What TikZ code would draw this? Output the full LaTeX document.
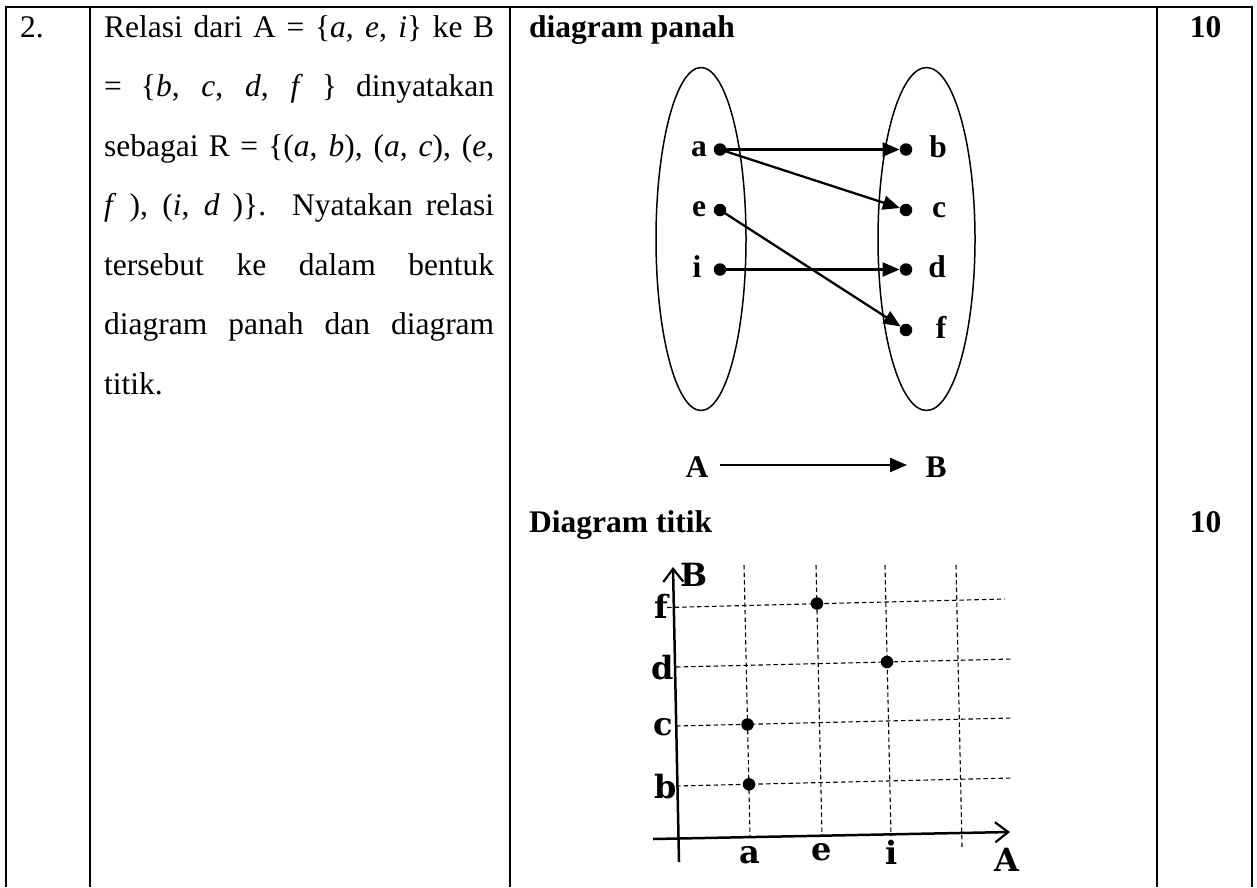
\documentclass[tikz,border=0pt]{standalone}
\usepackage{fontspec}
\setmainfont{Liberation Serif}
\newfontfamily\gridfont{DejaVu Serif}
\usetikzlibrary{arrows.meta,shapes.geometric}
\begin{document}
\begin{tikzpicture}[x=1pt,y=-1pt,
  rule/.style={line width=2.2pt},
  body/.style={font=\fontsize{31.5}{37}\selectfont, inner sep=0pt, anchor=base west},
  bold/.style={font=\fontsize{31.5}{37}\selectfont\bfseries, inner sep=0pt},
  dot/.style={circle, fill=black, inner sep=0pt, minimum size=12.5pt},
  setell/.style={draw, ellipse, line width=1.5pt, inner sep=0pt},
  arr/.style={line width=2.3pt, -{Triangle[length=17pt,width=14pt]}},
  gline/.style={dash pattern=on 4.5pt off 3pt, line width=1.1pt},
  glab/.style={font=\gridfont\bfseries\fontsize{32}{36}\selectfont, inner sep=0pt},
  axisline/.style={line width=2.5pt, -{Straight Barb[length=13pt,width=20pt,line width=2.2pt]}}
]
\useasboundingbox (0,0) rectangle (1257,887);
% table
\draw[rule] (4.9,7) -- (1253.1,7);
\foreach \x in {6,90,510,1157,1252} \draw[rule] (\x,7) -- (\x,887);
% column 1 and 2
\node[body] (num) at (20,37) {2.};
\node[body] (l1) at (104,37) {\makebox[390pt][s]{Relasi dari A = \{\textit{a}, \textit{e}, \textit{i}\} ke B}};
\node[body] (l2) at (104,96.5) {\makebox[390pt][s]{= \{\textit{b}, \textit{c}, \textit{d}, \textit{f} \} dinyatakan}};
\node[body] (l3) at (104,156) {\makebox[390pt][s]{sebagai R = \{(\textit{a}, \textit{b}), (\textit{a}, \textit{c}), (\textit{e},}};
\node[body] (l4) at (104,215.5) {\makebox[390pt][s]{\textit{f} ), (\textit{i}, \textit{d} )\}. Nyatakan relasi}};
\node[body] (l5) at (104,275) {\makebox[390pt][s]{tersebut ke dalam bentuk}};
\node[body] (l6) at (104,334.5) {\makebox[390pt][s]{diagram panah dan diagram}};
\node[body] (l7) at (104,394) {titik.};
% column 3 headers and scores
\node[bold, anchor=base west] (h1) at (529,37) {diagram panah};
\node[bold, anchor=base] (s1) at (1205.5,37) {10};
\node[bold, anchor=base west] (h2) at (529,532) {Diagram titik};
\node[bold, anchor=base] (s2) at (1205.5,532) {10};
% arrow diagram
\node[setell, minimum width=90pt, minimum height=343pt] (setA) at (701,239) {};
\node[setell, minimum width=97pt, minimum height=343pt] (setB) at (926.5,239) {};
\node[dot] (a) at (720,149.5) {};
\node[dot] (e) at (720,210) {};
\node[dot] (i) at (720,269.5) {};
\node[dot] (b) at (906,149.5) {};
\node[dot] (c) at (906,210) {};
\node[dot] (d) at (906,269.5) {};
\node[dot] (f) at (906,330) {};
\node[bold, anchor=base] (la) at (699,156) {a};
\node[bold, anchor=base] (le) at (699,216) {e};
\node[bold, anchor=base] (li) at (697,277) {i};
\node[bold, anchor=base] (lb) at (938,157) {b};
\node[bold, anchor=base] (lc) at (939,217) {c};
\node[bold, anchor=base] (ld) at (937,277) {d};
\node[bold, anchor=base] (lf) at (941,338) {f};
\draw[arr] (a.center) -- (b);
\draw[arr] (a.center) -- (c);
\draw[arr] (e.center) -- (f);
\draw[arr] (i.center) -- (d);
\node[bold, anchor=base] (bigA) at (697,477) {A};
\node[bold, anchor=base] (bigB) at (936,477) {B};
\coordinate (arrS) at (720,465);
\coordinate (arrE) at (907,465);
\draw[arr] (arrS) -- (arrE);
% dot diagram
\coordinate (yb) at (679,862);
\coordinate (yt) at (673,567);
\coordinate (xl) at (653,839);
\coordinate (xr) at (1010,832);
\draw[gline] (744,565) -- (750,836);
\draw[gline] (816,565) -- (822,836);
\draw[gline] (885,565) -- (891,836);
\draw[gline] (956,565) -- (962,847);
\draw[gline] (667,607.5) -- (1005,599);
\draw[gline] (676,667) -- (1012,659);
\draw[gline] (676,726) -- (1012,718);
\draw[gline] (676,786) -- (1012,778);
\draw[axisline] (yb) -- (yt);
\draw[axisline] (xl) -- (xr);
\node[dot] (pf) at (817,603.5) {};
\node[dot] (pd) at (887,662) {};
\node[dot] (pc) at (747.5,724.5) {};
\node[dot] (pb) at (749,784.3) {};
\node[glab] (gB) at (694,575) {B};
\node[glab] (gf) at (661,606) {f};
\node[glab] (gd) at (663,668) {d};
\node[glab] (gc) at (663,727) {c};
\node[glab] (gb) at (666,787) {b};
\node[glab] (ga) at (750,855) {a};
\node[glab] (ge) at (822,852) {e};
\node[glab] (gi) at (892,852) {i};
\node[glab] (gA) at (1007,860) {A};
\end{tikzpicture}
\end{document}
